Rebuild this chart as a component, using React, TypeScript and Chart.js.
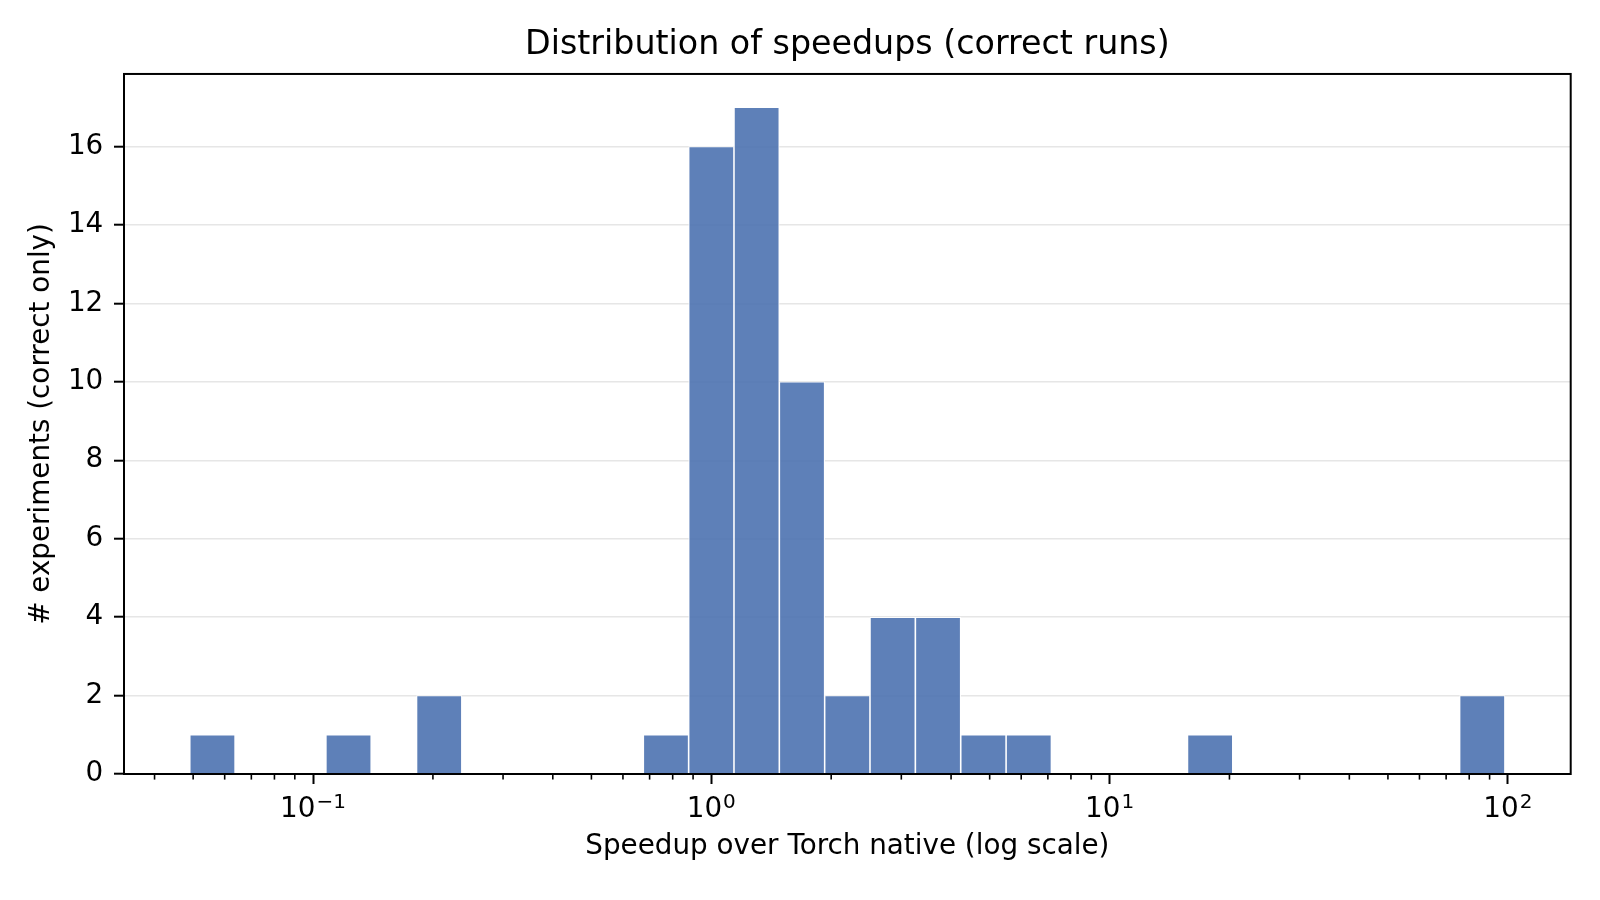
import { useEffect, useRef } from "react";
import { Chart, registerables } from "chart.js";

Chart.register(...registerables);

// log-spaced histogram bin edges (30 edges -> 29 bins)
const BIN_EDGES = [
  0.04903, 0.06373, 0.08287, 0.1077, 0.14, 0.1819, 0.2364, 0.3074, 0.3996, 0.5191,
  0.6748, 0.8774, 1.14, 1.482, 1.926, 2.503, 3.253, 4.23, 5.498, 7.147,
  9.288, 12.07, 15.69, 20.39, 26.51, 34.45, 44.8, 58.21, 75.66, 98.35,
];
// number of correct runs in each bin
const COUNTS = [1, 0, 0, 1, 0, 2, 0, 0, 0, 0, 1, 16, 17, 10, 2, 4, 4, 1, 1, 0, 0, 0, 1, 0, 0, 0, 0, 0, 2];

const X_MAJOR_TICKS = [0.1, 1, 10, 100];
const X_TICK_EXPONENTS = ["\u22121", "0", "1", "2"];
const Y_MAX = 17.85;

const FONT = "'DejaVu Sans', sans-serif";
const BAR_COLOR = "rgba(76, 114, 176, 0.9)";

const binCenters = COUNTS.map((_, i) => Math.sqrt(BIN_EDGES[i] * BIN_EDGES[i + 1]));

// 5% margin on each side in log space, like matplotlib
const logLo = Math.log10(BIN_EDGES[0]);
const logHi = Math.log10(BIN_EDGES[BIN_EDGES.length - 1]);
const pad = (logHi - logLo) * 0.05;
const X_MIN = 10 ** (logLo - pad);
const X_MAX = 10 ** (logHi + pad);

// minor x ticks, 10^n labels with real superscripts, full box around the plot
const frame = {
  id: "frame",
  afterDatasetsDraw(chart: any) {
    const { ctx, chartArea } = chart;
    const xs = chart.scales.x;
    ctx.save();
    ctx.strokeStyle = "#000";
    ctx.lineWidth = 1.6;
    for (let e = Math.floor(Math.log10(xs.min)); e <= Math.ceil(Math.log10(xs.max)); e++) {
      for (let m = 2; m <= 9; m++) {
        const v = m * 10 ** e;
        if (v < xs.min || v > xs.max) continue;
        const px = xs.getPixelForValue(v);
        ctx.beginPath();
        ctx.moveTo(px, chartArea.bottom);
        ctx.lineTo(px, chartArea.bottom + 5.6);
        ctx.stroke();
      }
    }
    ctx.lineWidth = 2;
    ctx.strokeRect(chartArea.left, chartArea.top, chartArea.right - chartArea.left, chartArea.bottom - chartArea.top);

    ctx.fillStyle = "#000";
    ctx.textBaseline = "alphabetic";
    ctx.textAlign = "left";
    const baseFont = `27.8px ${FONT}`;
    const expFont = `20px ${FONT}`;
    const baseY = chartArea.bottom + 42.7;
    X_MAJOR_TICKS.forEach((v, i) => {
      const px = xs.getPixelForValue(v);
      ctx.font = baseFont;
      const wb = ctx.measureText("10").width;
      ctx.font = expFont;
      const we = ctx.measureText(X_TICK_EXPONENTS[i]).width;
      const x0 = px - (wb + 1 + we) / 2;
      ctx.font = baseFont;
      ctx.fillText("10", x0, baseY);
      ctx.font = expFont;
      ctx.fillText(X_TICK_EXPONENTS[i], x0 + wb + 1, baseY - 8.7);
    });
    ctx.restore();
  },
};

const SpeedupHistogram = () => {
  const canvasRef = useRef<HTMLCanvasElement>(null);

  useEffect(() => {
    if (!canvasRef.current) return;

    const chart = new Chart(canvasRef.current, {
      type: "bar",
      data: {
        datasets: [
          {
            data: binCenters.map((x, i) => ({ x, y: COUNTS[i] })),
            backgroundColor: BAR_COLOR,
            borderColor: "rgba(255, 255, 255, 0.9)",
            borderWidth: 1.1,
            barPercentage: 1,
            categoryPercentage: 1,
          },
        ],
      },
      options: {
        animation: false,
        responsive: true,
        maintainAspectRatio: false,
        layout: { padding: { left: 0, right: 29.3, top: 0, bottom: 0 } },
        plugins: {
          legend: { display: false },
          tooltip: { enabled: false },
          title: {
            display: true,
            text: "Distribution of speedups (correct runs)",
            color: "#000",
            fullSize: false,
            font: { family: FONT, size: 33.3, weight: "normal" },
            padding: { top: 25.2, bottom: 8.8 },
          },
        },
        scales: {
          x: {
            type: "logarithmic",
            min: X_MIN,
            max: X_MAX,
            offset: false,
            afterBuildTicks: (scale: any) => {
              scale.ticks = X_MAJOR_TICKS.map((value) => ({ value, major: true }));
            },
            afterFit: (scale: any) => {
              scale.height = 126;
            },
            grid: {
              offset: false,
              drawOnChartArea: false,
              tickLength: 10,
              tickColor: "#000",
              tickWidth: 2,
            },
            border: { display: false },
            ticks: {
              autoSkip: false,
              maxRotation: 0,
              padding: 6.5,
              // labels are drawn by the frame plugin so the exponent can be a real superscript
              callback: () => "",
            },
            title: {
              display: true,
              text: "Speedup over Torch native (log scale)",
              color: "#000",
              font: { family: FONT, size: 27.8 },
              padding: { top: 0, bottom: 36.3 },
            },
          },
          y: {
            min: 0,
            max: Y_MAX,
            afterFit: (scale: any) => {
              scale.width = 124;
            },
            grid: {
              color: (ctx: any) => (ctx.tick && ctx.tick.value === 0 ? "rgba(0,0,0,0)" : "#e6e6e6"),
              lineWidth: 1.4,
              tickLength: 10,
              tickColor: "#000",
              tickWidth: 2,
            },
            border: { display: false },
            ticks: {
              stepSize: 2,
              includeBounds: false,
              padding: 10.7,
              color: "#000",
              font: { family: FONT, size: 27.8 },
            },
            title: {
              display: true,
              text: "# experiments (correct only)",
              color: "#000",
              font: { family: FONT, size: 27.8 },
              padding: { top: 25.3, bottom: 0 },
            },
          },
        },
      },
      plugins: [frame],
    });

    return () => {
      chart.destroy();
    };
  }, []);

  return (
    <div style={{ position: "fixed", left: 0, top: 0, width: 1600, height: 900, background: "#fff" }}>
      <canvas ref={canvasRef} />
    </div>
  );
};

export default function App() {
  return <SpeedupHistogram />;
}
